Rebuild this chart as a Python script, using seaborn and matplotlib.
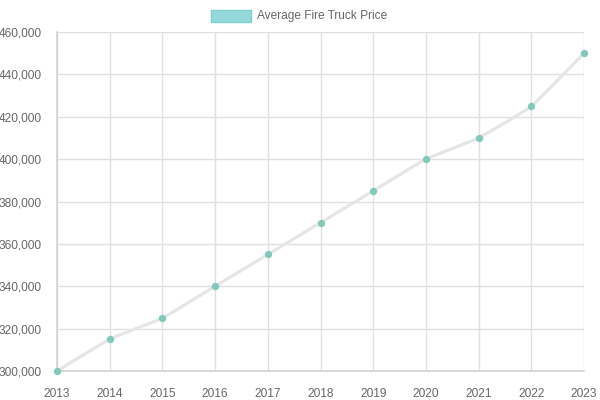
import numpy as np
import pandas as pd
import seaborn as sns
import matplotlib.pyplot as plt
from matplotlib.path import Path
from matplotlib.patches import PathPatch, Rectangle
from matplotlib.ticker import FuncFormatter

# data
years = [2013, 2014, 2015, 2016, 2017, 2018, 2019, 2020, 2021, 2022, 2023]
prices = [300000, 315000, 325000, 340000, 355000, 370000, 385000, 400000, 410000, 425000, 450000]
series_label = "Average Fire Truck Price"

df = pd.DataFrame({"year": years, "price": prices})

sns.set_theme(style="white")
plt.rcParams['font.family'] = ['Liberation Sans', 'DejaVu Sans']

fig = plt.figure(figsize=(6, 4), dpi=100)
ax = fig.add_axes([57 / 600, 1 - 371 / 400, (584 - 57) / 600, (371 - 32) / 400])

grid_c = "#e0e0e0"
text_c = "#666666"

ax.set_xlim(2013, 2023)
ax.set_ylim(300000, 460000)
ax.set_xticks(years)
ax.set_yticks(np.arange(300000, 460001, 20000))
ax.yaxis.set_major_formatter(FuncFormatter(lambda v, p: f"{int(v):,}"))
ax.grid(True, color=grid_c, linewidth=1)
for s in ax.spines.values():
    s.set_visible(False)
ax.spines['left'].set_visible(True)
ax.spines['bottom'].set_visible(True)
ax.spines['left'].set_color("#d4d4d4")
ax.spines['bottom'].set_color("#d4d4d4")
ax.tick_params(axis='both', colors=text_c, labelsize=8.6, length=8, width=1, color=grid_c, pad=3)
ax.tick_params(axis='x', pad=4)

# slightly smoothed line (chart.js style bezier, low tension)
fig.canvas.draw()
pts = ax.transData.transform(np.column_stack([years, prices]))
t = 0.12
n = len(pts)
cps = []
for i in range(n):
    prev = pts[max(i - 1, 0)]
    cur = pts[i]
    nxt = pts[min(i + 1, n - 1)]
    d01 = np.hypot(*(cur - prev))
    d12 = np.hypot(*(nxt - cur))
    tot = d01 + d12 if d01 + d12 > 0 else 1
    s01 = d01 / tot
    s12 = d12 / tot
    cp_prev = cur - t * s01 * (nxt - prev)
    cp_next = cur + t * s12 * (nxt - prev)
    cps.append((cp_prev, cp_next))
verts = [pts[0]]
codes = [Path.MOVETO]
for i in range(n - 1):
    verts += [cps[i][1], cps[i + 1][0], pts[i + 1]]
    codes += [Path.CURVE4] * 3
verts = ax.transData.inverted().transform(np.array(verts))
ax.add_patch(PathPatch(Path(verts, codes), facecolor='none', edgecolor="#e5e5e5",
                       linewidth=2.3, zorder=3, clip_on=False))

sns.scatterplot(data=df, x="year", y="price", ax=ax, color="#82c9bb", s=28,
                edgecolor="#82c9bb", linewidth=0, zorder=4, clip_on=False, legend=False)
ax.set_xlabel("")
ax.set_ylabel("")

# legend like chart.js
fig.patches.append(Rectangle((211 / 600, 1 - 22 / 400), 40 / 600, 12 / 400,
                             transform=fig.transFigure, facecolor="#93d9d9",
                             edgecolor="#7fcfcf", linewidth=1))
fig.text(257 / 600, 1 - 16 / 400, series_label, color=text_c, fontsize=8.6,
         ha='left', va='center')

fig.savefig("out.png", dpi=100)
